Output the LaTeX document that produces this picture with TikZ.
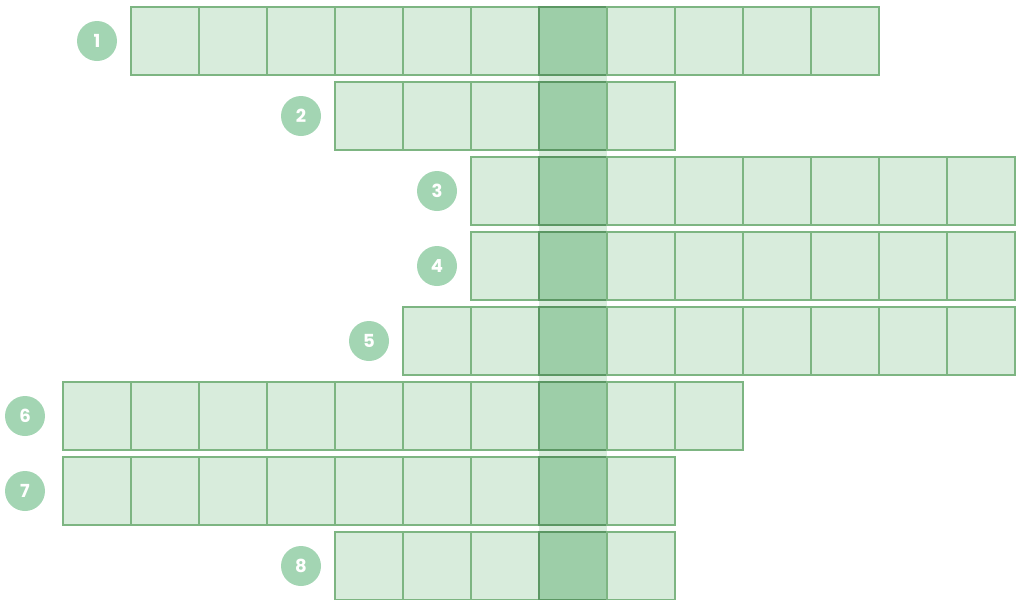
\documentclass[tikz,border=0pt]{standalone}
\usepackage{fontspec}
\newfontfamily\numfont{Poppins}
\definecolor{cellfill}{HTML}{D8ECDC}
\definecolor{darkfill}{HTML}{9DCEA8}
\definecolor{cellline}{HTML}{7DB582}
\definecolor{darkline}{HTML}{5B9763}
\definecolor{circfill}{HTML}{A3D5B3}
\begin{document}
\begin{tikzpicture}[x=1pt,y=-1pt,
  cellbox/.style={draw=cellline,fill=cellfill,line width=1.3pt,minimum size=68pt,inner sep=0pt,outer sep=0pt},
  darkbox/.style={cellbox,draw=darkline,fill=darkfill},
  numbadge/.style={circle,fill=circfill,minimum size=40pt,inner sep=0pt,text=white,font=\numfont\bfseries\fontsize{18}{18}\selectfont}]
\useasboundingbox (0,0) rectangle (1021,600);
\fill[cellfill] (539,7) rectangle (607,600);
\foreach \r/\s/\n/\cx in {1/1/11/97, 2/4/5/301, 3/6/8/437, 4/6/8/437, 5/5/9/369, 6/0/10/25, 7/0/9/25, 8/4/5/301}{
  \pgfmathtruncatemacro{\e}{\s+\n-1}
  \pgfmathsetmacro{\cy}{41+75*(\r-1)}
  \foreach \k in {\s,...,\e}{
    \ifnum\k=7
      \node[darkbox] (r\r c\k) at ({97+68*\k},\cy) {};
    \else
      \node[cellbox] (r\r c\k) at ({97+68*\k},\cy) {};
    \fi
  }
  \node[numbadge] (n\r) at (\cx,\cy) {\r};
}
\end{tikzpicture}
\end{document}
